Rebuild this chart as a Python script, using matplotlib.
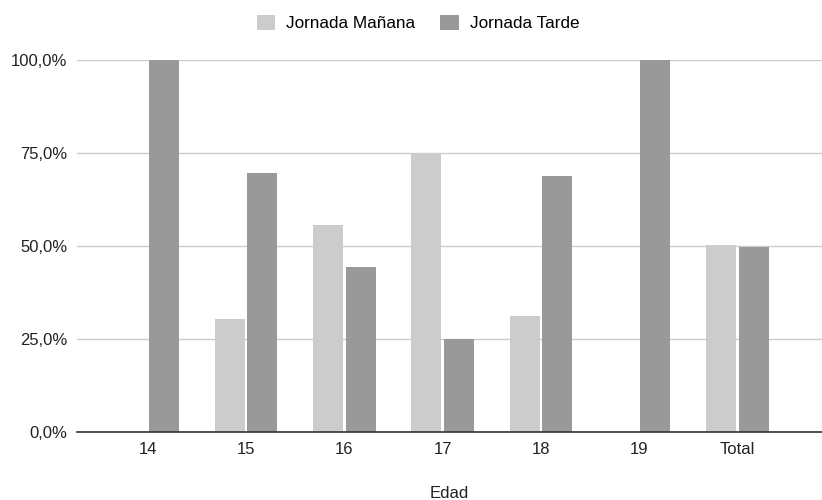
import matplotlib
matplotlib.use("Agg")
import matplotlib.pyplot as plt
import numpy as np
from matplotlib.ticker import FuncFormatter

categories = ["14", "15", "16", "17", "18", "19", "Total"]
manana = [0.0, 30.3, 55.6, 75.0, 31.3, 0.0, 50.3]
tarde = [100.0, 69.7, 44.4, 25.0, 68.7, 100.0, 49.7]
series_names = ["Jornada Mañana", "Jornada Tarde"]
yticks = [0, 25, 50, 75, 100]

plt.rcParams['font.family'] = ['Liberation Sans', 'DejaVu Sans']

fig = plt.figure(figsize=(8.22, 5.0), dpi=100)
ax = fig.add_axes([77/822, 68/500, 1 - 77/822, (432-60)/500])

x = np.arange(len(categories))
w = 0.305
off = 0.165
ax.bar(x - off, manana, width=w, color="#cccccc", label=series_names[0], zorder=3)
ax.bar(x + off, tarde, width=w, color="#999999", label=series_names[1], zorder=3)

ax.set_xlim(-0.72, 6.86)
ax.set_ylim(0, 100)
ax.set_yticks(yticks)
ax.yaxis.set_major_formatter(FuncFormatter(lambda v, p: f"{v:.1f}%".replace(".", ",")))
ax.set_xticks(x)
ax.set_xticklabels(categories)
ax.tick_params(axis="both", length=0, labelsize=12, colors="#222222")
ax.tick_params(axis="x", pad=7.5)
ax.tick_params(axis="y", pad=7)
ax.grid(axis="y", color="#cccccc", linewidth=1, zorder=0)
for s in ["top", "right", "left"]:
    ax.spines[s].set_visible(False)
ax.spines["bottom"].set_color("#333333")
ax.spines["bottom"].set_linewidth(1.2)
ax.spines["bottom"].set_zorder(4)

ax.set_xlabel("Edad", fontsize=12, color="#222222", va="center")
ax.xaxis.set_label_coords(0.5, -(493 - 432) / 372)

fig.legend(loc="center", bbox_to_anchor=(418/822, 1 - 23/500), ncol=2, frameon=False,
           fontsize=12.3, handlelength=1.08, handleheight=1.0, columnspacing=1.45,
           handletextpad=0.66)

fig.savefig("out.png", dpi=100)
